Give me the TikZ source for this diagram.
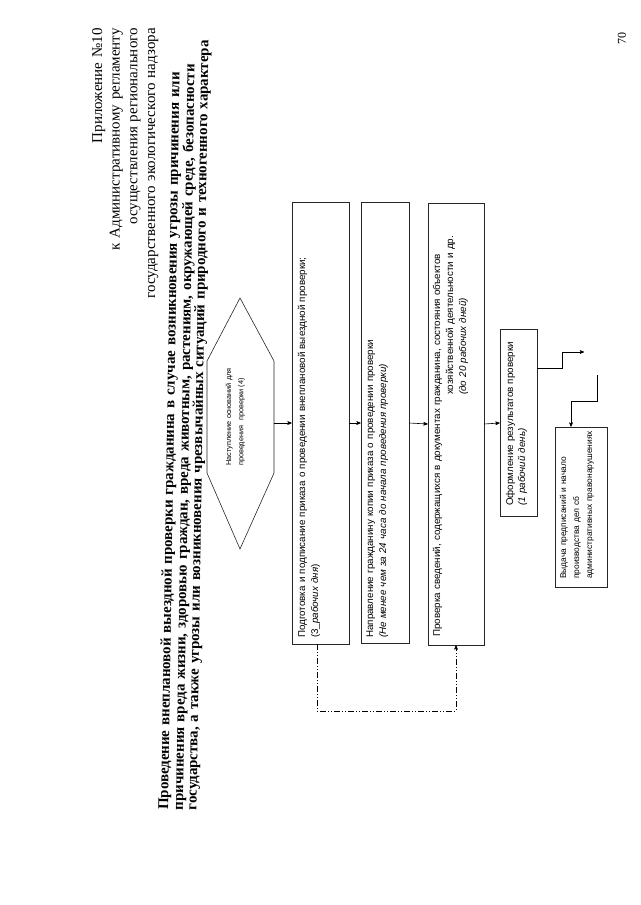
\documentclass[tikz,border=0pt]{standalone}
\usepackage{fontspec}
\setmainfont{Liberation Serif}
\setsansfont{Liberation Sans}
\usetikzlibrary{arrows,calc}
\setlength{\lineskiplimit}{-20pt}

\tikzset{
  box/.style={draw=black!85, line width=.6pt, rotate=90, inner sep=0, fill=white},
  boxtext/.style={rotate=90, anchor=base west, inner sep=0, text width=#1, align=left, font=\sffamily\fontsize{9.8}{13}\selectfont},
  boxtext/.default=430pt,
  arr/.style={black, line width=.6pt, ->, >=stealth'},
  back/.style={black, line width=.6pt, dash pattern=on 6pt off 2pt on 1pt off 2pt on 1pt off 2pt, ->, >=stealth'},
}

\begin{document}
\begin{tikzpicture}[x=1pt, y=-1pt]
\useasboundingbox (0,0) rectangle (640,905);

% header
\node[rotate=90, anchor=base east, inner sep=0, text width=300pt, align=right, font=\fontsize{15}{17.7}\selectfont] (prilozh) at (102,28) {Приложение №10\\к Административному регламенту\\осуществления регионального\\государственного экологического надзора};
\node[rotate=89.1, anchor=base west, inner sep=0, text width=800pt, align=left, font=\bfseries\fontsize{14.9}{13.6}\selectfont] (zagolovok) at (168,810) {Проведение внеплановой выездной проверки гражданина в случае возникновения угрозы причинения или\\причинения вреда жизни, здоровью граждан, вреда животным, растениям, окружающей среде, безопасности\\государства, а также угрозы или возникновения чрезвычайных ситуаций природного и техногенного характера};
\node[rotate=90, inner sep=0, font=\fontsize{12}{14}\selectfont] (nomer) at (622,38) {70};

% hexagon
\draw[black!85, line width=.6pt] (240,298) -- (274,361) -- (274,473) -- (240,549) -- (207,473) -- (207,361) -- cycle;
\coordinate (hexR) at (274,423);
\node[boxtext=220pt, font=\sffamily\fontsize{7.3}{12.3}\selectfont] (nastup) at (231,466) {Наступление оснований для\\проведения\ \ проверки (4)};

% boxes
\node[box, minimum width=442pt, minimum height=57pt] (prikaz) at (320.5,423) {};
\node[box, minimum width=441pt, minimum height=48pt] (kopia) at (385,423) {};
\node[box, minimum width=442pt, minimum height=56pt] (proverka) at (456,424) {};
\node[box, minimum width=187pt, minimum height=37pt] (oform) at (518.5,423) {};
\node[box, minimum width=160pt, minimum height=52pt] (vydacha) at (581,507) {};

\node[boxtext] (prikaztxt) at (305,638) {Подготовка и подписание приказа о проведении внеплановой выездной проверки;\\(3\_\textit{рабочих дня})};
\node[boxtext] (kopiatxt) at (373,638) {Направление гражданину копии приказа о проведении проверки\\\textit{(Не менее чем за 24 часа до начала проведения проверки)}};
\node[boxtext=440pt] (proverkatxt) at (440,637) {Проверка сведений, содержащихся в документах гражданина, состояния объектов\\\hspace*{242pt}хозяйственной деятельности и др.\\\hspace*{242pt}\textit{(до 20 рабочих дней)}};
\node[boxtext=180pt, font=\sffamily\fontsize{9.8}{12}\selectfont] (oformtxt) at (513,506) {Оформление результатов проверки\\\textit{(1 рабочий день)}};
\node[boxtext=160pt, font=\sffamily\fontsize{8.4}{13}\selectfont] (vydachatxt) at (566,579) {Выдача предписаний и начало\\производства дел сб\\административных правонарушениях};

% connectors
\draw[arr] (hexR) -- (prikaz.north);
\draw[arr] (prikaz.south) -- (kopia.north);
\draw[arr] (kopia.south) -- (proverka.north);
\draw[arr] (proverka.south) -- (oform.north);
\coordinate (vyhod) at (584,352);
\draw[arr] (oform.south |- 0,368) -- (562,368) -- (562,352) -- (vyhod);
\coordinate (vhod) at (597,375);
\draw[arr] (vhod) -- (597,401) -- (571,401) -- (vydacha.east -| 571,0);
\draw[back] (prikaz.west -| 317,0) -- (317,711) -- (456,711) -- (proverka.west -| 456,0);
\end{tikzpicture}
\end{document}
